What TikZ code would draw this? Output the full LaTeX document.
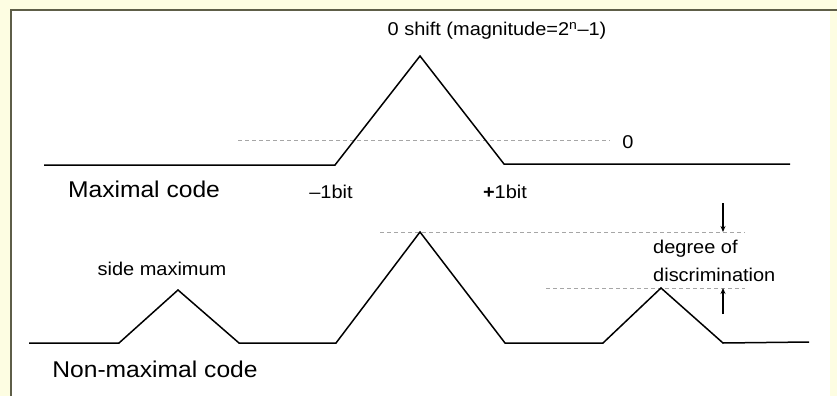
\documentclass[tikz,border=0pt]{standalone}
\usepackage{fontspec}
\setmainfont{Liberation Sans}[FakeStretch=1.08]
\usetikzlibrary{arrows.meta}
\definecolor{yellowbg}{HTML}{FDFDE2}
\definecolor{framecol}{HTML}{5E5E48}
\begin{document}
\begin{tikzpicture}[x=1pt,y=-1pt,
  curve/.style={line width=1.5pt, black, line join=miter},
  guide/.style={line width=0.7pt, black!35, dash pattern=on 4pt off 3pt},
  lbl/.style={inner sep=0pt, anchor=base, font=\fontsize{18.5}{22}\selectfont},
  big/.style={inner sep=0pt, anchor=base, font=\fontsize{22.8}{27}\selectfont},
  pointer/.style={line width=1.2pt, -{Stealth[length=6pt,width=5pt]}}]
\useasboundingbox (0,0) rectangle (837,396);
\fill[yellowbg] (0,0) rectangle (837,396);
\fill[white] (11,10) rectangle (830,396);
\draw[framecol, line width=1.3pt] (11,396) -- (11,10) -- (837,10);

% maximal code curve
\coordinate (a1) at (44,165);
\coordinate (a2) at (335,165);
\coordinate (apk) at (420,56);
\coordinate (a3) at (504,164);
\coordinate (a4) at (790,164);
\draw[guide] (238,140) -- (610,140);
\draw[curve] (a1) -- (a2) -- (apk) -- (a3) -- (a4);

% non-maximal code curve
\coordinate (b1) at (29,343);
\coordinate (b2) at (119,343);
\coordinate (bs1) at (178,290);
\coordinate (b3) at (239,343);
\coordinate (b4) at (336,343);
\coordinate (bpk) at (420,232);
\coordinate (b5) at (505,343);
\coordinate (b6) at (603,343);
\coordinate (bs2) at (661,288);
\coordinate (b7) at (723,343);
\coordinate (b8) at (809,342);
\draw[guide] (380,232) -- (745,232);
\draw[guide] (546,288) -- (745,288);
\draw[curve] (b1) -- (b2) -- (bs1) -- (b3) -- (b4) -- (bpk) -- (b5) -- (b6) -- (bs2) -- (b7) -- (b8);

% degree of discrimination arrows
\coordinate (t1) at (723,203);
\coordinate (t2) at (723,232);
\coordinate (u1) at (723,314);
\coordinate (u2) at (723,288);
\draw[pointer] (t1) -- (t2);
\draw[pointer] (u1) -- (u2);

% labels
\node[lbl] (title) at (497,36) {0 shift (magnitude=2\textsuperscript{n}–1)};
\node[lbl] (zero) at (628,148) {0};
\node[big] (maxc) at (144,197) {Maximal code};
\node[lbl] (mbit) at (331,198) {–1bit};
\node[lbl] (pbit) at (505,198) {\textbf{+}1bit};
\node[lbl] (side) at (162,275) {side maximum};
\node[big] (nonmax) at (155,377) {Non-maximal code};
\node[lbl, anchor=base west] (deg1) at (653,253) {degree of};
\node[lbl, anchor=base west] (deg2) at (653,281) {discrimination};
\end{tikzpicture}
\end{document}
